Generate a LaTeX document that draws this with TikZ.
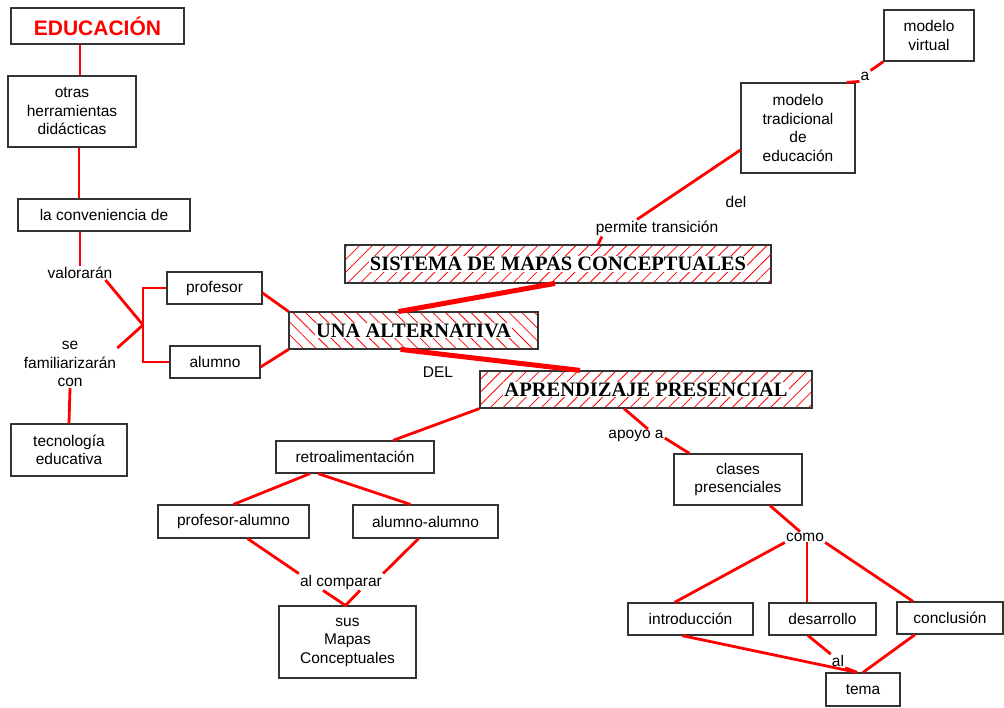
\documentclass[tikz,border=0pt]{standalone}
\usepackage{fontspec}
\setmainfont{Liberation Sans}
\newfontfamily\titlefont{Liberation Serif}
\usepackage{xcolor}
\usepackage{tikz}
\usetikzlibrary{positioning,calc,patterns.meta}
\definecolor{linkred}{HTML}{FF0000}
\definecolor{boxline}{HTML}{333333}

\tikzset{
  concept/.style={draw=boxline, line width=1.2pt, fill=white, inner sep=0pt, align=center,
    font=\fontsize{15.5}{18.5}\selectfont},
  phrase/.style={inner sep=1pt, align=center, font=\fontsize{15.5}{18.5}\selectfont},
  hatchbox/.style={draw=boxline, line width=1.2pt, inner sep=0pt,
    pattern={Lines[angle=#1,distance=9pt,line width=0.8pt]}, pattern color=linkred},
  hatchtext/.style={fill=white, inner sep=1pt, font=\titlefont\bfseries\fontsize{20.5}{22}\selectfont},
  link/.style={draw=linkred, line width=2.8pt},
  biglink/.style={draw=linkred, line width=5pt}
}

\begin{document}
\begin{tikzpicture}[x=1pt, y=-1pt]
      \useasboundingbox (0,0) rectangle (1004,707);

      % left column
      \node[concept, minimum width=173pt, minimum height=36pt, text=linkred,
        font=\bfseries\fontsize{21}{24}\selectfont] (edu) at (97.5,26) {EDUCACIÓN};
      \node[concept, minimum width=128pt, minimum height=71pt] (otras) at (72,111.5) {otras\\herramientas\\didácticas};
      \node[concept, minimum width=172pt, minimum height=32pt] (conv) at (104,215) {la conveniencia de};
      \node[phrase] (valor) at (80,273) {valorarán};
      \node[phrase] (sefam) at (70,364) {se\\familiarizarán\\con};
      \node[concept, minimum width=116pt, minimum height=52pt] (tecno) at (69,450) {tecnología\\educativa};
      \node[concept, minimum width=95pt, minimum height=32pt] (prof) at (214.5,288) {profesor};
      \node[concept, minimum width=90pt, minimum height=32pt] (alum) at (215,362) {alumno};
      \coordinate (fork) at (143,325);

      % hatched titles
      \node[hatchbox=-45, minimum width=249pt, minimum height=37pt] (una) at (413.5,330.5) {};
      \node[hatchtext] (unatxt) at (una) {UNA ALTERNATIVA};
      \node[hatchbox=45, minimum width=426pt, minimum height=38pt] (sist) at (558,264) {};
      \node[hatchtext] (sisttxt) at (sist) {SISTEMA DE MAPAS CONCEPTUALES};
      \node[hatchbox=45, minimum width=332pt, minimum height=37pt] (apre) at (646,389.5) {};
      \node[hatchtext] (apretxt) at (apre) {APRENDIZAJE PRESENCIAL};
      \node[phrase] (dellbl) at (438,372) {DEL};

      % upper right
      \node[phrase] (permite) at (657,228) {permite transición};
      \node[phrase] (del) at (736,202) {del};
      \node[concept, minimum width=114pt, minimum height=90pt] (trad) at (798,128) {modelo\\tradicional\\de\\educación};
      \node[phrase] (albl) at (865,76) {a};
      \node[concept, minimum width=90pt, minimum height=51pt] (virt) at (929,35.5) {modelo\\virtual};

      % lower right
      \node[phrase] (apoyo) at (636,436) {apoyo a};
      \node[concept, minimum width=128pt, minimum height=51pt] (clases) at (738,479.5) {clases\\presenciales};
      \node[phrase] (como) at (805,537) {como};
      \node[concept, minimum width=125pt, minimum height=32pt] (intro) at (690.5,619) {introducción};
      \node[concept, minimum width=107pt, minimum height=32pt] (desa) at (822.5,619) {desarrollo};
      \node[concept, minimum width=106pt, minimum height=32pt] (concl) at (950,618) {conclusión};
      \node[phrase] (allbl) at (838,661) {al};
      \node[concept, minimum width=74pt, minimum height=33pt] (tema) at (863,689.5) {tema};

      % lower left
      \node[concept, minimum width=158pt, minimum height=32pt] (retro) at (355,457) {retroalimentación};
      \node[concept, minimum width=151pt, minimum height=33pt] (profal) at (233.5,521.5) {profesor-alumno};
      \node[concept, minimum width=145pt, minimum height=33pt] (alal) at (425.5,521.5) {alumno-alumno};
      \node[phrase] (alcomp) at (341,582) {al comparar};
      \node[concept, minimum width=137pt, minimum height=72pt] (sus) at (347.5,642) {sus\\Mapas\\Conceptuales};

      % links
      \draw[link] ([xshift=-17.5pt]edu.south) -- ([xshift=8pt]otras.north);
      \draw[link] ([xshift=7pt]otras.south) -- ([xshift=-25pt]conv.north);
      \draw[link] ([xshift=-24pt]conv.south) -- (valor.north);
      \draw[link] ([xshift=-8pt]valor.south east) -- (fork);
      \draw[link] ([yshift=-8pt]sefam.north east) -- (fork);
      \draw[link] (prof.west) -| (fork) |- (alum.west);
      \draw[link] (sefam.south) -- (tecno.north);
      \draw[link] ([yshift=-5pt]prof.east) -- (una.north west);
      \draw[link] ([yshift=-5pt]alum.east) -- (una.south west);
      \draw[biglink] ([xshift=-3pt]sist.south) -- ([xshift=-15pt]una.north);
      \draw[biglink] ([xshift=-13pt]una.south) -- ([xshift=-66pt]apre.north);
      \draw[link] (apre.south west) -- ([xshift=38pt]retro.north);
      \draw[link] ([xshift=-22pt]apre.south) -- ([xshift=12pt]apoyo.north);
      \draw[link] ([yshift=-2pt]apoyo.east) -- ([xshift=16pt]clases.north west);
      \draw[link] ([xshift=32pt]clases.south) -- ([xshift=-5pt]como.north);
      \draw[link] (como.south west) -- ([xshift=-16pt]intro.north);
      \draw[link] ([xshift=2pt]como.south) -- ([xshift=-15.5pt]desa.north);
      \draw[link] (como.south east) -- ([xshift=-37pt]concl.north);
      \draw[link] ([xshift=-8.5pt]intro.south) -- ([xshift=-6pt]tema.north);
      \draw[link] ([xshift=-14.5pt]desa.south) -- (allbl.north west);
      \draw[link] (allbl.south east) -- ([xshift=-6pt]tema.north);
      \draw[link] ([xshift=-35pt]concl.south) -- (tema.north);
      \draw[link] ([xshift=-45pt]retro.south) -- (profal.north);
      \draw[link] ([xshift=-37pt]retro.south) -- ([xshift=-15pt]alal.north);
      \draw[link] ([xshift=14pt]profal.south) -- (alcomp.north west);
      \draw[link] ([xshift=-7pt]alal.south) -- (alcomp.north east);
      \draw[link] ([xshift=-18pt]alcomp.south) -- ([xshift=-2pt]sus.north) -- ([xshift=19pt]alcomp.south);
      \draw[link] ([yshift=-22pt]trad.west) -- ([xshift=-20pt]permite.north);
      \draw[link] ([xshift=-55pt]permite.south) -- ([xshift=40pt]sist.north);
      \draw[link] ([xshift=-9pt]trad.north east) -- (albl.south west);
      \draw[link] (albl.north east) -- (virt.south west);
    \end{tikzpicture}
\end{document}
